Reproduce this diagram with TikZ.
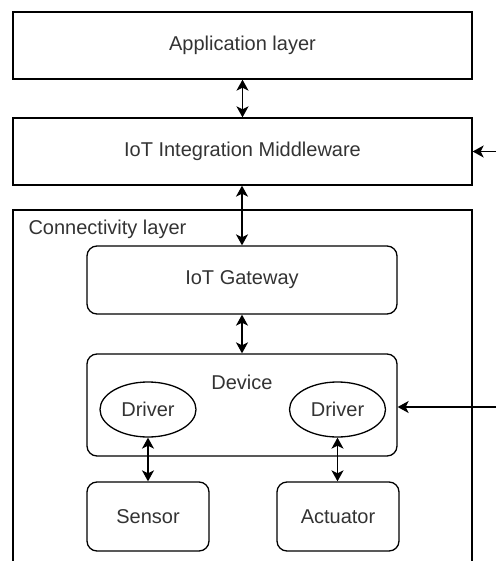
\documentclass[tikz,border=0pt]{standalone}
\usepackage{fontspec}
\setmainfont{Liberation Sans}
\usetikzlibrary{arrows.meta,shapes.geometric}

\begin{document}
\begin{tikzpicture}[x=1pt,y=-1pt]
		\tikzstyle{every node}=[text=black!80, font=\fontsize{20}{24}\selectfont]
		\tikzstyle{layer}=[draw, line width=1.3pt, minimum width=459pt, minimum height=67pt]
		\tikzstyle{part}=[draw, line width=1.3pt, rounded corners=10pt]
		\tikzstyle{drv}=[draw, ellipse, line width=1.3pt, minimum width=96pt, minimum height=55pt, inner sep=0pt]
		\tikzstyle{link}=[line width=1.6pt, {Stealth[length=11pt,width=12pt,inset=3pt]}-{Stealth[length=11pt,width=12pt,inset=3pt]}]
		\tikzstyle{feed}=[line width=1.6pt, -{Stealth[length=11pt,width=12pt,inset=3pt]}]
		\useasboundingbox (0,0) rectangle (496,561);
		% layers
		\node[layer] (app) at (242.5,45.5) {Application layer};
		\node[layer] (mid) at (242.5,151.5) {IoT Integration Middleware};
		\draw[line width=1.3pt] (13,561) -- (13,210) -- (472,210) -- (472,561);
		\node[anchor=west] (conn) at (25,229) {Connectivity layer};
		% connectivity parts
		\node[part, minimum width=310pt, minimum height=68pt] (gw) at (242,280) {IoT Gateway};
		\node[part, minimum width=310pt, minimum height=102pt] (dev) at (242,405) {};
		\node (devlbl) at (242,382) {Device};
		\node[drv] (drvA) at (148,409.5) {Driver};
		\node[drv] (drvB) at (337.5,409.5) {Driver};
		\node[part, minimum width=122pt, minimum height=69pt] (sensor) at (148,516.5) {Sensor};
		\node[part, minimum width=122pt, minimum height=69pt] (act) at (338,516.5) {Actuator};
		% connectors
		\draw[link] (app) -- (mid);
		\draw[link] (mid.south -| gw.north) -- (gw.north);
		\draw[link] (gw) -- (dev);
		\draw[link] (drvA) -- (sensor);
		\draw[link] (drvB.south) -- (drvB.south |- act.north);
		\coordinate (inA) at (496,151.5);
		\coordinate (inB) at (496,407);
		\draw[feed] (inA) -- (mid.east);
		\draw[feed] (inB) -- (inB -| dev.east);
	\end{tikzpicture}
\end{document}
